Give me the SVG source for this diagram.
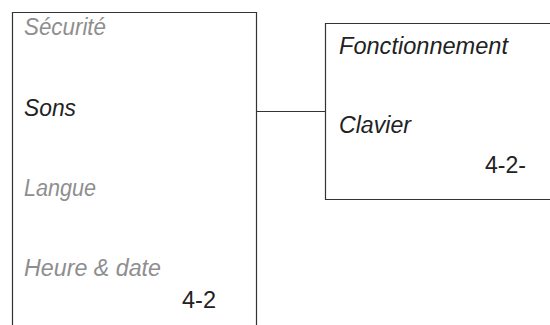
<svg xmlns="http://www.w3.org/2000/svg" width="550" height="325" viewBox="0 0 550 325">
<style>
.box{fill:none;stroke:#333;stroke-width:1.2}
.t{font-family:"Liberation Sans",Arial,sans-serif;font-size:23px;font-style:italic;fill:#222}
.g{fill:#8e8e8e}
.n{font-family:"Liberation Sans",Arial,sans-serif;font-size:23px;fill:#222}
.c{fill:none;stroke:#333;stroke-width:1.2}
</style>
<rect width="550" height="325" fill="#fff"/>
<g id="menu">
<path class="box" d="M12.5,326 V12.5 H256.5 V326"/>
<text class="t g" x="24" y="35" textLength="82" lengthAdjust="spacingAndGlyphs">Sécurité</text>
<text class="t" x="24" y="116" textLength="52" lengthAdjust="spacingAndGlyphs">Sons</text>
<text class="t g" x="24" y="196" textLength="72" lengthAdjust="spacingAndGlyphs">Langue</text>
<text class="t g" x="24" y="276" textLength="137" lengthAdjust="spacingAndGlyphs">Heure &amp; date</text>
<text class="n" x="182" y="308" textLength="34" lengthAdjust="spacingAndGlyphs">4-2</text>
</g>
<g id="sons">
<path class="box" d="M551,23.5 H325.5 V199.5 H551"/>
<text class="t" x="339" y="54" textLength="169" lengthAdjust="spacingAndGlyphs">Fonctionnement</text>
<text class="t" x="339" y="133" textLength="72" lengthAdjust="spacingAndGlyphs">Clavier</text>
<text class="n" x="485" y="173" textLength="41" lengthAdjust="spacingAndGlyphs">4-2-</text>
</g>
<g id="connectors">
<path class="c" d="M256.5,111.5 H325.5"/>
</g>
</svg>
